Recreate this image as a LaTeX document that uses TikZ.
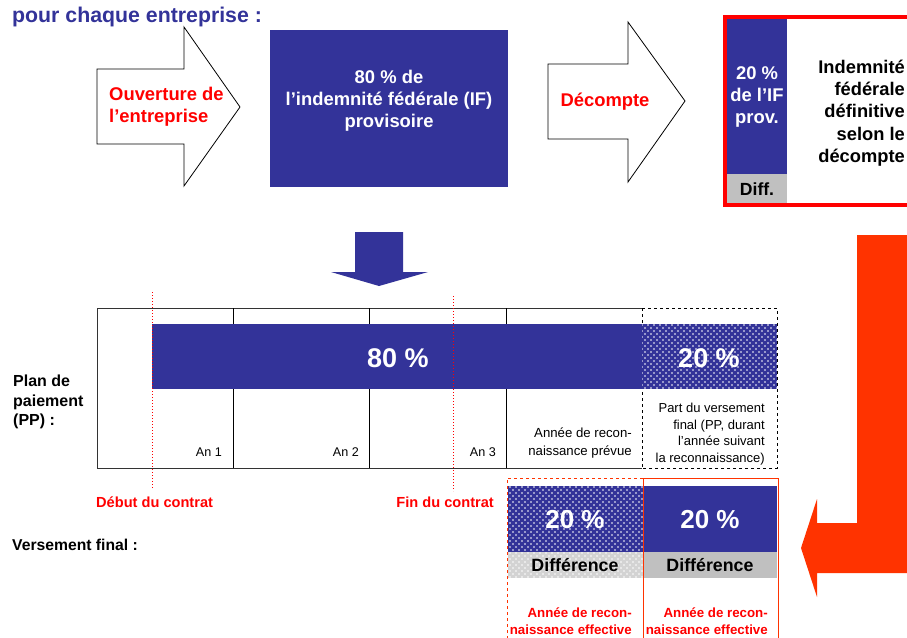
\documentclass[tikz,border=0pt]{standalone}
\usepackage{fontspec}
\setmainfont{Liberation Sans}
\usetikzlibrary{patterns}
\definecolor{ifblue}{RGB}{51,51,153}
\definecolor{ifgray}{RGB}{192,192,192}
\definecolor{iforange}{RGB}{255,51,0}
\pgfdeclarepatternformonly{wdots}{\pgfqpoint{-1pt}{-1pt}}{\pgfqpoint{5pt}{5pt}}{\pgfqpoint{6pt}{6pt}}{%
  \pgfpathcircle{\pgfqpoint{0pt}{0pt}}{.8pt}\pgfpathcircle{\pgfqpoint{3pt}{3pt}}{.8pt}\pgfusepath{fill}}
\newcommand{\fs}[2]{\fontsize{#1}{#2}\selectfont}
\tikzset{
  every node/.style={inner sep=0pt},
  bigarrow/.style={draw=black, fill=white, line width=0.8},
  redtxt/.style={text=red, font=\bfseries\fs{18.4}{22}},
  whitetxt/.style={text=white, font=\bfseries\fs{18.4}{22}, align=center},
  small/.style={font=\fs{12.6}{16.5}, align=right, anchor=east},
  dotsfill/.style={pattern=wdots, pattern color=white}
}
\begin{document}
\begin{tikzpicture}[x=1pt,y=-1pt]
  \useasboundingbox (0,0) rectangle (907,637);
  \node[anchor=west, text=ifblue, font=\bfseries\fs{21.3}{24}] (title) at (12,17) {pour chaque entreprise :};
  \draw[bigarrow] (97,69) -- (184,69) -- (184,27) -- (240,107) -- (184,186) -- (184,144) -- (97,144) -- cycle;
  \node[redtxt, anchor=west, align=left] (ouverture) at (109,107) {Ouverture de\\l’entreprise};
  \fill[ifblue] (270,30) rectangle (508,187);
  \node[whitetxt] (ifprov) at (389,100.5) {80 \% de\\l’indemnité fédérale (IF)\\provisoire};
  \draw[bigarrow] (548,64) -- (628,64) -- (628,22) -- (685,101) -- (628,182) -- (628,139) -- (548,139) -- cycle;
  \node[redtxt] (decompte) at (605,102) {Décompte};
  \draw[red, line width=4] (725,17) rectangle (915,205);
  \fill[ifblue] (727,19) rectangle (787,174);
  \fill[ifgray] (727,174) rectangle (787,203);
  \node[whitetxt] (ifrest) at (757,97) {20 \%\\de l’IF\\prov.};
  \node[font=\bfseries\fs{17.6}{20}] (diffa) at (757,189) {Diff.};
  \node[font=\bfseries\fs{18.3}{22.3}, align=right, anchor=east] (ifdef) at (905,113) {Indemnité\\fédérale\\définitive\\selon le\\décompte};
  \fill[ifblue] (355,232) -- (403,232) -- (403,272) -- (428,272) -- (379,286) -- (331,272) -- (355,272) -- cycle;
  \draw[line width=1, black!80] (642,308) -- (97,308) -- (97,468) -- (642,468);
  \foreach \x in {233,369,506} \draw[line width=0.9] (\x,308) -- (\x,468);
  \draw[line width=0.9, dashed] (642,308) -- (777,308) -- (777,468) -- (642,468) (642,308) -- (642,468);
  \fill[ifblue] (152,324) rectangle (642,389);
  \node[text=white, font=\bfseries\fs{27}{29}] (pp80) at (398,358) {80 \%};
  \fill[ifblue] (642,324) rectangle (777,389);
  \fill[dotsfill] (642,324) rectangle (777,389);
  \node[text=white, font=\bfseries\fs{27}{29}] (pp20) at (709,358) {20 \%};
  \foreach \x/\t in {222/An 1,359/An 2,496/An 3} \node[small] (an\t) at (\x,452) {\t};
  \node[small, font=\fs{13.2}{18}] (prevue) at (632,443) {Année de recon-\\naissance prévue};
  \node[small, font=\fs{13}{16.5}] (partfinal) at (765,434) {Part du versement\\final (PP, durant\\l’année suivant\\la reconnaissance)};
  \draw[red, dotted, line width=1] (152,292) -- (152,488) (453,296) -- (453,491);
  \node[anchor=west, text=red, font=\bfseries\fs{14.6}{16}] (debut) at (96,502) {Début du contrat};
  \node[anchor=east, text=red, font=\bfseries\fs{14.6}{16}] (fin) at (494,502) {Fin du contrat};
  \node[anchor=west, align=left, font=\bfseries\fs{16}{19.5}] (plan) at (13,402) {Plan de\\paiement\\(PP) :};
  \node[anchor=west, font=\bfseries\fs{15.7}{17}] (versement) at (12,545) {Versement final :};
  \fill[ifblue] (508,486) rectangle (643,552);
  \fill[dotsfill] (508,486) rectangle (643,552);
  \fill[ifgray!70] (508,552) rectangle (643,578);
  \fill[dotsfill] (508,552) rectangle (643,578);
  \fill[ifblue] (643,486) rectangle (777,552);
  \fill[ifgray] (643,552) rectangle (777,578);
  \draw[iforange, dashed, line width=0.9] (507,645) -- (507,478) -- (643,478);
  \draw[iforange, line width=0.9] (643,645) -- (643,478) -- (778,478) -- (778,645);
  \foreach \x/\n in {575/a,710/b} {
    \node[text=white, font=\bfseries\fs{26}{28}] (vf\n) at (\x,520) {20 \%};
    \node[font=\bfseries\fs{17.8}{19}] (diff\n) at (\x,565) {Différence};
  }
  \foreach \x/\n in {632/a,768/b}
    \node[small, text=red, font=\bfseries\fs{13.3}{17}] (eff\n) at (\x,621) {Année de recon-\\naissance effective};
  \fill[iforange] (857,235) -- (910,235) -- (910,573) -- (817,573) -- (817,597) -- (801,548) -- (817,499) -- (817,523) -- (857,523) -- cycle;
\end{tikzpicture}
\end{document}
